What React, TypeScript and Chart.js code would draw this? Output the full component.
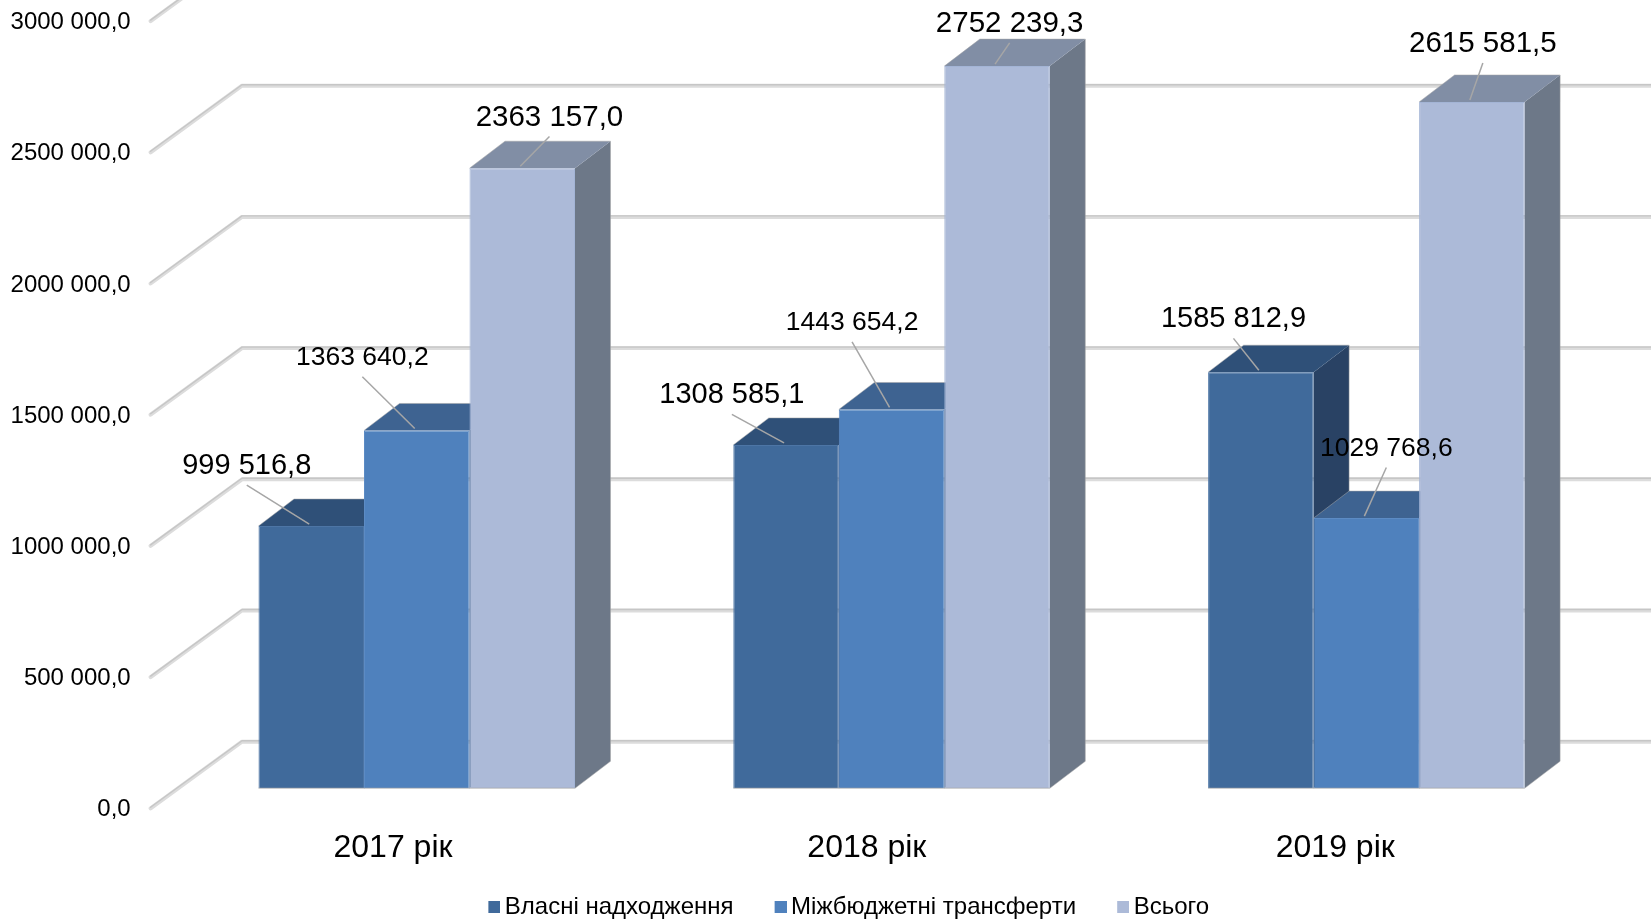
import React, { useEffect, useRef } from "react";
import { Chart, registerables } from "chart.js";

Chart.register(...registerables);

const categories = ["2017 рік", "2018 рік", "2019 рік"];
const ownRevenue = [999516.8, 1308585.1, 1585812.9];
const transfers = [1363640.2, 1443654.2, 1029768.6];
const total = [2363157.0, 2752239.3, 2615581.5];
const seriesNames = ["Власні надходження", "Міжбюджетні трансферти", "Всього"];

const FONT = "'Liberation Sans', Arial, sans-serif";
const frontColors = ["#406A9B", "#4F81BD", "#ACBAD8"];
const frontEdgeColors = ["#4D75A5", "#5C8BC4", "#A3B4D5"];
const topColors = ["#2F5078", "#3E6391", "#818EA5"];
const sideColors = ["#294264", "#33557F", "#6D7888"];
const edgeColor = "rgba(165,165,165,0.5)";
const labelSizes = [29, 26.5, 29.5];
// label centre relative to the bar's top-centre, per series, per category
const labelShift = [
  [[-64.5, -60], [-54.2, -49.6], [-27.4, -52.8]],
  [[-54.4, -72.8], [-39.5, -86.5], [20, -69.6]],
  [[27.2, -50.7], [12.6, -42.2], [11, -58]],
];
const categoryLabelShift = [-23.75, -24.7, -31.1];
const DEPTH_X = 35.5;
const DEPTH_Y = 27;
const WALL_LEFT = 150.6;
const WALL_BACK = 242;
const WALL_FRONT_DY = 20;
const WALL_BACK_DY = -46.6;
const PLOT_TOP = 1.1;
const PLOT_BOTTOM = 788.3;

const fmt = (v: number) => {
  const [i, d] = v.toFixed(1).split(".");
  return `${i.replace(/\B(?=(\d{3})$)/, " ")},${d}`;
};

const scene = {
  id: "scene3d",
  afterLayout(chart: any) {
    const { x, y } = chart.scales;
    const area = chart.chartArea;
    area.top = PLOT_TOP;
    area.bottom = PLOT_BOTTOM;
    area.height = PLOT_BOTTOM - PLOT_TOP;
    y.top = PLOT_TOP;
    y.bottom = PLOT_BOTTOM;
    y.height = PLOT_BOTTOM - PLOT_TOP;
    y.left = 0;
    y.configure();
    x.top = PLOT_BOTTOM;
    x.bottom = chart.height;
    x.height = chart.height - PLOT_BOTTOM;
    x.configure();
    chart.legend.top = 907 - chart.legend.options.labels.padding - 12;
  },
  beforeDraw(chart: any) {
    const x = chart.scales.x;
    x.getLabelItems(chart.chartArea).forEach((it: any, i: number) => {
      it.options.translation[0] = x.getPixelForTick(i) + categoryLabelShift[i];
    });
  },
  beforeDatasetsDraw(chart: any) {
    const { ctx, scales } = chart;
    const W = chart.width;
    ctx.save();
    ctx.lineJoin = "round";
    ctx.lineCap = "round";
    scales.y.ticks.forEach((t: any) => {
      const p = scales.y.getPixelForValue(t.value);
      const path = (off: number) => {
        ctx.beginPath();
        ctx.moveTo(WALL_LEFT, p + WALL_FRONT_DY + off);
        ctx.lineTo(WALL_BACK, p + WALL_BACK_DY + off);
        ctx.lineTo(W + 4, p + WALL_BACK_DY + off);
        ctx.stroke();
      };
      ctx.strokeStyle = "#DCDCDC";
      ctx.lineWidth = 4;
      path(0);
      ctx.strokeStyle = "#C6C6C6";
      ctx.lineWidth = 1.4;
      path(-1);
    });
    ctx.restore();

    [0, 1, 2].forEach((ds) => {
      const meta = chart.getDatasetMeta(ds);
      meta.data.forEach((b: any) => {
        const l = b.x - b.width / 2;
        const r = b.x + b.width / 2;
        const t = b.y;
        const base = b.base;
        ctx.fillStyle = sideColors[ds];
        ctx.beginPath();
        ctx.moveTo(r, t);
        ctx.lineTo(r + DEPTH_X, t - DEPTH_Y);
        ctx.lineTo(r + DEPTH_X, base - DEPTH_Y);
        ctx.lineTo(r, base);
        ctx.closePath();
        ctx.fill();
        ctx.fillStyle = topColors[ds];
        ctx.beginPath();
        ctx.moveTo(l, t);
        ctx.lineTo(l + DEPTH_X, t - DEPTH_Y);
        ctx.lineTo(r + DEPTH_X, t - DEPTH_Y);
        ctx.lineTo(r, t);
        ctx.closePath();
        ctx.fill();
        ctx.strokeStyle = edgeColor;
        ctx.lineWidth = 1;
        ctx.beginPath();
        ctx.moveTo(l, t);
        ctx.lineTo(l + DEPTH_X, t - DEPTH_Y);
        ctx.lineTo(r + DEPTH_X, t - DEPTH_Y);
        ctx.lineTo(r + DEPTH_X, base - DEPTH_Y);
        ctx.lineTo(r, base);
        ctx.stroke();
      });
      meta.controller.draw();
      meta.data.forEach((b: any) => {
        ctx.strokeStyle = edgeColor;
        ctx.lineWidth = 1.5;
        ctx.beginPath();
        ctx.moveTo(b.x - b.width / 2, b.base);
        ctx.lineTo(b.x + b.width / 2, b.base);
        ctx.stroke();
      });
    });
    return false;
  },
  afterDraw(chart: any) {
    const { ctx } = chart;
    ctx.save();
    [0, 1, 2].forEach((ds) => {
      const meta = chart.getDatasetMeta(ds);
      meta.data.forEach((b: any, i: number) => {
        const [dx, dy] = labelShift[ds][i];
        const lx = b.x + dx;
        const ly = b.y + dy;
        ctx.strokeStyle = "#A6A6A6";
        ctx.lineWidth = 1.5;
        ctx.beginPath();
        ctx.moveTo(lx, ly + 19);
        ctx.lineTo(b.x - 2, b.y - 2);
        ctx.stroke();
        ctx.fillStyle = "#000000";
        ctx.font = `${labelSizes[ds]}px ${FONT}`;
        ctx.textAlign = "center";
        ctx.textBaseline = "middle";
        ctx.fillText(fmt(chart.data.datasets[ds].data[i]), lx, ly);
      });
    });
    ctx.restore();
  },
};

export default function App() {
  const ref = useRef<HTMLCanvasElement>(null);
  useEffect(() => {
    const swatches = frontColors.map((c) => {
      const s = document.createElement("canvas");
      s.width = 16;
      s.height = 12;
      const g = s.getContext("2d")!;
      g.fillStyle = c;
      g.fillRect(4, 0, 12, 12);
      return s;
    });
    const chart = new Chart(ref.current!, {
      type: "bar",
      data: {
        labels: categories,
        datasets: [ownRevenue, transfers, total].map((data, i) => ({
          label: seriesNames[i],
          data,
          backgroundColor: frontColors[i],
          borderWidth: 1,
          borderColor: frontEdgeColors[i],
          categoryPercentage: 316.5 / 474.8,
          barPercentage: 1,
        })),
      },
      options: {
        responsive: false,
        animation: false,
        layout: { autoPadding: false, padding: { top: 1.1, left: 97.2, right: 47.25, bottom: 0 } },
        scales: {
          x: {
            grid: { display: false },
            border: { display: false },
            ticks: {
              font: { family: FONT, size: 32 },
              color: "#000000",
              padding: 33,
              maxRotation: 0,
              autoSkip: false,
            },
          },
          y: {
            min: 0,
            max: 3000000,
            grid: { display: false, drawTicks: false },
            border: { display: false },
            ticks: {
              stepSize: 500000,
              font: { family: FONT, size: 24 },
              color: "#000000",
              padding: 48.7,
              labelOffset: 21.5,
              callback: (v: any) => fmt(Number(v)),
            },
            afterFit(s: any) {
              s.width = 82.15;
            },
          },
        },
        plugins: {
          tooltip: { enabled: false },
          legend: {
            position: "bottom",
            labels: {
              font: { family: FONT, size: 24 },
              color: "#000000",
              usePointStyle: true,
              pointStyleWidth: 1,
              padding: 44.6,
              generateLabels: (c: any) =>
                Chart.defaults.plugins.legend.labels
                  .generateLabels(c)
                  .map((l: any) => ({ ...l, pointStyle: swatches[l.datasetIndex] })),
            },
          },
        },
      } as any,
      plugins: [scene as any],
    });
    return () => chart.destroy();
  }, []);
  return (
    <div style={{ position: "absolute", left: 0, top: 0, width: 1651, height: 920 }}>
      <canvas ref={ref} width={1651} height={920} style={{ display: "block" }} />
    </div>
  );
}
